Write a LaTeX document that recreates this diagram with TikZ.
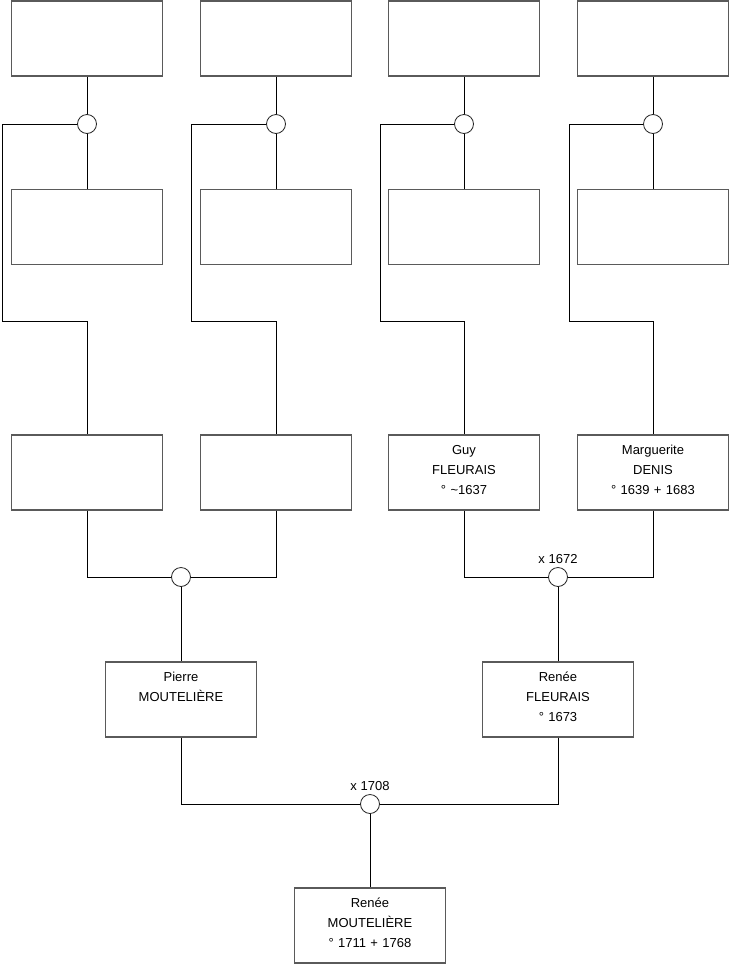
\documentclass[tikz,border=0pt]{standalone}
\usepackage{fontspec}
\setmainfont{Liberation Sans}
\usetikzlibrary{positioning}
\definecolor{boxgray}{HTML}{5A5A5A}

\begin{document}
\begin{tikzpicture}[x=1pt, y=-1pt,
    person/.style={draw=boxgray, line width=1.1pt, fill=white, align=center,
      text width=151pt, inner xsep=0pt, inner ysep=0pt,
      text height=19.5pt, text depth=55.5pt,
      font=\fontsize{13}{20}\selectfont},
    union/.style={draw=black!85, line width=0.8pt, fill=white, circle,
      minimum size=19pt, inner sep=0pt},
    year/.style={font=\fontsize{13}{15}\selectfont},
    link/.style={draw=black, line width=0.8pt}]
    \useasboundingbox (0,0) rectangle (740,975);

    % top row
    \node[person] (a1) at (87,38.5) {};
    \node[person] (a2) at (276,38.5) {};
    \node[person] (a3) at (464,38.5) {};
    \node[person] (a4) at (653,38.5) {};

    \node[union] (u1) at (87,124) {};
    \node[union] (u2) at (276,124) {};
    \node[union] (u3) at (464,124) {};
    \node[union] (u4) at (653,124) {};

    % second row
    \node[person] (b1) at (87,227) {};
    \node[person] (b2) at (276,227) {};
    \node[person] (b3) at (464,227) {};
    \node[person] (b4) at (653,227) {};

    % third row
    \node[person] (c1) at (87,472.5) {};
    \node[person] (c2) at (276,472.5) {};
    \node[person] (guy) at (464,472.5) {Guy\\FLEURAIS\\° \textasciitilde1637};
    \node[person] (marg) at (653,472.5) {Marguerite\\DENIS\\° 1639 + 1683};

    \node[union] (u5) at (181,577) {};
    \node[union, label={[year]above:x 1672}] (u6) at (558,577) {};

    \node[person] (pierre) at (181,699.5) {Pierre\\MOUTELIÈRE};
    \node[person] (renee) at (558,699.5) {Renée\\FLEURAIS\\° 1673};

    \node[union, label={[year]above:x 1708}] (u7) at (370,804) {};

    \node[person] (child) at (370,925.5) {Renée\\MOUTELIÈRE\\° 1711 + 1768};

    \coordinate (e1) at (2,321);
    \coordinate (e2) at (191,321);
    \coordinate (e3) at (380,321);
    \coordinate (e4) at (569,321);

    \draw[link] (a1) -- (u1) -- (b1);
    \draw[link] (a2) -- (u2) -- (b2);
    \draw[link] (a3) -- (u3) -- (b3);
    \draw[link] (a4) -- (u4) -- (b4);

    \draw[link] (u1.west) -| (e1) -| (c1.north);
    \draw[link] (u2.west) -| (e2) -| (c2.north);
    \draw[link] (u3.west) -| (e3) -| (guy.north);
    \draw[link] (u4.west) -| (e4) -| (marg.north);

    \draw[link] (c1.south) |- (u5.west);
    \draw[link] (c2.south) |- (u5.east);
    \draw[link] (u5) -- (pierre);
    \draw[link] (guy.south) |- (u6.west);
    \draw[link] (marg.south) |- (u6.east);
    \draw[link] (u6) -- (renee);

    \draw[link] (pierre.south) |- (u7.west);
    \draw[link] (renee.south) |- (u7.east);
    \draw[link] (u7) -- (child);
  \end{tikzpicture}
\end{document}
